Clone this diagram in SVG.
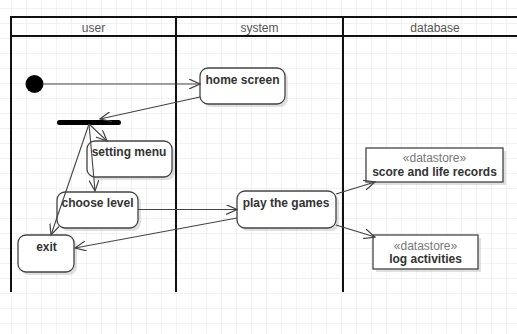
<svg xmlns="http://www.w3.org/2000/svg" width="517" height="334" viewBox="0 0 517 334">
<style>
.lane{fill:none;stroke:#111;stroke-width:2}
.hdr{font-family:"Liberation Sans",Arial,sans-serif;font-size:12px;fill:#555;text-anchor:middle}
.act{fill:#fff;stroke:#444;stroke-width:1.3}
.shadow{fill:#bbb;opacity:0.45}
.lbl{font-family:"Liberation Sans",Arial,sans-serif;font-size:12px;font-weight:bold;fill:#333;text-anchor:middle}
.st{font-family:"Liberation Sans",Arial,sans-serif;font-size:12px;fill:#777;text-anchor:middle}
.edge{fill:none;stroke:#444;stroke-width:1.1;marker-end:url(#open)}
</style>
<defs>
<pattern id="grid" patternUnits="userSpaceOnUse" x="11" y="8" width="15" height="15">
<path d="M0 0H15M0 0V15" fill="none" stroke="#e6e6e6" stroke-width="1"/>
</pattern>
<marker id="open" markerUnits="userSpaceOnUse" viewBox="0 0 12 10" refX="11" refY="5" markerWidth="12" markerHeight="10" orient="auto">
<path d="M0 0L11 5L0 10" fill="none" stroke="#444" stroke-width="1.2"/>
</marker>
</defs>
<rect width="517" height="334" fill="#fff"/>
<rect width="517" height="334" fill="url(#grid)"/>
<g id="lanes">
<path class="lane" d="M11 292V17H520M11 36H520M176 17V292M343 17V292"/>
<text class="hdr" x="93.5" y="32">user</text>
<text class="hdr" x="259.5" y="32">system</text>
<text class="hdr" x="435" y="32">database</text>
</g>
<g id="start"><circle cx="34.5" cy="84" r="9" fill="#000"/></g>
<g id="fork"><rect x="57" y="120" width="64" height="5" rx="2.5" fill="#000"/></g>
<g id="home">
<rect class="shadow" x="203" y="71" width="85" height="36" rx="8"/>
<rect class="act" x="200" y="68" width="85" height="36" rx="8"/>
<text class="lbl" x="242.5" y="84">home screen</text>
</g>
<g id="setting">
<rect class="shadow" x="90" y="144" width="85" height="36" rx="8"/>
<rect class="act" x="87" y="141" width="85" height="36" rx="8"/>
<text class="lbl" x="129" y="156">setting menu</text>
</g>
<g id="choose">
<rect class="shadow" x="60" y="195" width="81" height="36" rx="8"/>
<rect class="act" x="57" y="192" width="81" height="36" rx="8"/>
<text class="lbl" x="97.5" y="207">choose level</text>
</g>
<g id="exit">
<rect class="shadow" x="21" y="238" width="56" height="37" rx="8"/>
<rect class="act" x="18" y="235" width="56" height="37" rx="8"/>
<text class="lbl" x="46.5" y="251">exit</text>
</g>
<g id="play">
<rect class="shadow" x="240" y="194" width="99" height="37" rx="8"/>
<rect class="act" x="237" y="191" width="99" height="37" rx="8"/>
<text class="lbl" x="286" y="207">play the games</text>
</g>
<g id="ds1">
<rect class="shadow" x="369" y="151" width="137" height="34"/>
<rect class="act" x="366" y="148" width="137" height="34"/>
<text class="st" x="434.5" y="162">«datastore»</text>
<text class="lbl" x="434.5" y="176">score and life records</text>
</g>
<g id="ds2">
<rect class="shadow" x="376" y="238" width="105" height="34"/>
<rect class="act" x="373" y="235" width="105" height="34"/>
<text class="st" x="425.5" y="250">«datastore»</text>
<text class="lbl" x="425.5" y="263">log activities</text>
</g>
<g id="connectors">
<path class="edge" d="M43.5 84H200"/>
<path class="edge" d="M200 97L100 119"/>
<path class="edge" d="M89 124L107 141"/>
<path class="edge" d="M89 124L95 191"/>
<path class="edge" d="M89 124L51 235"/>
<path class="edge" d="M138 209.5H237"/>
<path class="edge" d="M237 218L75 248"/>
<path class="edge" d="M336 194L375 182"/>
<path class="edge" d="M336 225L375 237"/>
</g>
</svg>
